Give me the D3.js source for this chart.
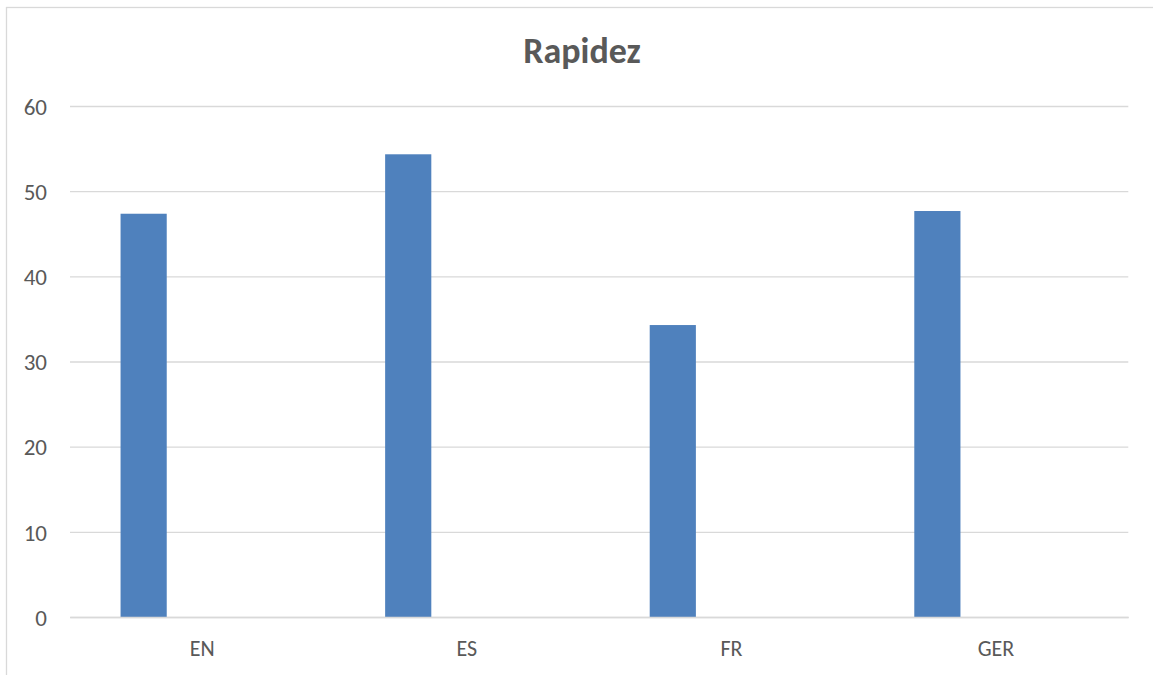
<!DOCTYPE html>
<html>
<head>
<meta charset="utf-8">
<script src="https://cdn.jsdelivr.net/npm/d3@7"></script>
<style>
  html, body { margin: 0; padding: 0; background: #ffffff; }
  svg { display: block; font-family: Carlito, Calibri, Lato, "Open Sans", sans-serif; }
</style>
</head>
<body>
<svg id="chart" width="1153" height="675"></svg>
<script>
// Chart data
const chartTitle = "Rapidez";
const categories = ["EN", "ES", "FR", "GER"];
// Series slots of the clustered layout; only the first carries values
const seriesNames = ["Rapidez", "Serie 2", "Serie 3"];
const rapidez = [47.35, 54.33, 34.28, 47.67];
const serie2 = [null, null, null, null];
const serie3 = [null, null, null, null];
const yTicks = [0, 10, 20, 30, 40, 50, 60];

const seriesValues = [rapidez, serie2, serie3];

const svg = d3.select("#chart");
const W = 1153, H = 675;
const margin = { top: 106, right: 24.7, bottom: 58, left: 70 };

const gridColor = "#D9D9D9";
const textColor = "#595959";
const barColor = "#4F81BD";
const fontStack = "Carlito, Calibri, Lato, sans-serif";

// Chart area border
svg.append("rect")
  .attr("x", 6.5).attr("y", 7.5)
  .attr("width", W + 10).attr("height", H + 10)
  .attr("fill", "none")
  .attr("stroke", gridColor)
  .attr("stroke-width", 1.3);

const x0 = d3.scaleBand()
  .domain(categories)
  .range([margin.left, W - margin.right])
  .paddingInner(0).paddingOuter(0);

// Bars within a category: overlap -27%, gap width 219%
const x1 = d3.scaleBand()
  .domain(seriesNames)
  .range([0, x0.bandwidth()])
  .paddingInner(0.27 / 1.27)
  .paddingOuter(1.095 / 1.27);

const y = d3.scaleLinear()
  .domain([0, 60])
  .range([H - margin.bottom, margin.top]);

// Horizontal gridlines and value labels
const yAxis = d3.axisLeft(y)
  .tickValues(yTicks)
  .tickSize(-(W - margin.right - margin.left))
  .tickPadding(23);

const gy = svg.append("g")
  .attr("transform", `translate(${margin.left},0)`)
  .call(yAxis);
gy.select(".domain").remove();
gy.selectAll(".tick line")
  .attr("stroke", gridColor)
  .attr("stroke-width", 1.3);
gy.selectAll(".tick text")
  .attr("fill", textColor)
  .attr("font-size", 23)
  .attr("font-family", fontStack)
  .attr("dy", "0.36em");

// Bars
const groups = svg.append("g")
  .selectAll("g")
  .data(categories)
  .join("g")
  .attr("transform", d => `translate(${x0(d)},0)`);

groups.selectAll("rect")
  .data((d, i) => seriesNames.map((s, k) => ({ s, v: seriesValues[k][i] })).filter(e => e.v != null))
  .join("rect")
  .attr("x", e => x1(e.s))
  .attr("width", x1.bandwidth())
  .attr("y", e => y(e.v))
  .attr("height", e => y(0) - y(e.v))
  .attr("fill", barColor);

// Category axis
const xAxis = d3.axisBottom(x0).tickSize(0).tickPadding(23);
const gx = svg.append("g")
  .attr("transform", `translate(0,${y(0)})`)
  .call(xAxis);
gx.select(".domain")
  .attr("stroke", gridColor)
  .attr("stroke-width", 1.3);
gx.selectAll(".tick text")
  .attr("fill", textColor)
  .attr("font-size", 22)
  .attr("font-family", fontStack);

// Title
svg.append("text")
  .attr("x", 582)
  .attr("y", 63)
  .attr("text-anchor", "middle")
  .attr("fill", textColor)
  .attr("font-size", 36)
  .attr("font-weight", "bold")
  .attr("font-family", fontStack)
  .text(chartTitle);
</script>
</body>
</html>
